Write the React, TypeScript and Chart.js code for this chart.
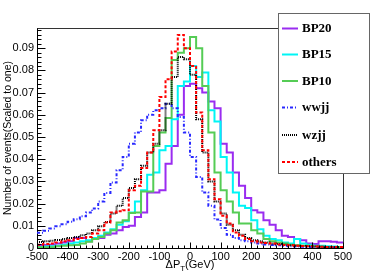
import React, { useEffect, useRef } from "react";
import { Chart, registerables } from "chart.js";

Chart.register(...registerables);

// Bin lower edges (GeV), 20 GeV wide bins from -500 to 500
const binLow = [
  -500, -480, -460, -440, -420, -400, -380, -360, -340, -320,
  -300, -280, -260, -240, -220, -200, -180, -160, -140, -120,
  -100, -80, -60, -40, -20, 0, 20, 40, 60, 80,
  100, 120, 140, 160, 180, 200, 220, 240, 260, 280,
  300, 320, 340, 360, 380, 400, 420, 440, 460, 480,
];
const binHigh = 500;

const bp20 = [
  0.0013, 0.0013, 0.0015, 0.002, 0.0025, 0.003, 0.0045, 0.0045, 0.003, 0.004,
  0.0045, 0.006, 0.0065, 0.008, 0.0095, 0.01, 0.014, 0.016, 0.025, 0.025,
  0.026, 0.038, 0.046, 0.06, 0.073, 0.074, 0.072, 0.07, 0.066, 0.063,
  0.047, 0.043, 0.034, 0.028, 0.0225, 0.017, 0.016, 0.0125, 0.0105, 0.008,
  0.0055, 0.005, 0.004, 0.0035, 0.002, 0.0018, 0.003, 0.003, 0.0028, 0.0025,
];
const bp15 = [
  0.0005, 0.0007, 0.0008, 0.001, 0.0015, 0.002, 0.0025, 0.003, 0.0035, 0.0045,
  0.0055, 0.007, 0.0085, 0.0105, 0.012, 0.016, 0.021, 0.026, 0.033, 0.034,
  0.044, 0.046, 0.058, 0.073, 0.075, 0.082, 0.077, 0.079, 0.062, 0.057,
  0.041, 0.034, 0.025, 0.019, 0.018, 0.0125, 0.0085, 0.0055, 0.004, 0.0035,
  0.0025, 0.002, 0.004, 0.002, 0.0015, 0.001, 0.001, 0.0008, 0.0007, 0.0005,
];
const bp10 = [
  0.0003, 0.0003, 0.0003, 0.0008, 0.001, 0.0012, 0.0014, 0.002, 0.0028, 0.004,
  0.005, 0.0065, 0.008, 0.0115, 0.0125, 0.0158, 0.016, 0.0254, 0.0254, 0.046,
  0.052, 0.0586, 0.0847, 0.088, 0.09, 0.095, 0.09, 0.073, 0.052, 0.034,
  0.026, 0.021, 0.016, 0.011, 0.011, 0.008, 0.0065, 0.004, 0.003, 0.0025,
  0.002, 0.0015, 0.0012, 0.001, 0.001, 0.0008, 0.0006, 0.0005, 0.0005, 0.0004,
];
const wwjj = [
  0.0069, 0.0078, 0.0088, 0.0098, 0.0107, 0.0118, 0.013, 0.0143, 0.016, 0.0178,
  0.021, 0.0248, 0.0295, 0.035, 0.041, 0.047, 0.052, 0.0575, 0.06, 0.062,
  0.063, 0.065, 0.063, 0.059, 0.052, 0.041, 0.032, 0.025, 0.019, 0.0128,
  0.009, 0.006, 0.0045, 0.0035, 0.003, 0.0025, 0.002, 0.0016, 0.0014, 0.0012,
  0.001, 0.0008, 0.0007, 0.0006, 0.0005, 0.0004, 0.0003, 0.0003, 0.0002, 0.0002,
];
const wzjj = [
  0.0027, 0.003, 0.0033, 0.0036, 0.004, 0.0045, 0.005, 0.0057, 0.0065, 0.008,
  0.0098, 0.0117, 0.0155, 0.019, 0.0225, 0.027, 0.031, 0.037, 0.043, 0.047,
  0.053, 0.065, 0.077, 0.086, 0.085, 0.078, 0.058, 0.043, 0.03, 0.021,
  0.0155, 0.0105, 0.008, 0.006, 0.0045, 0.0035, 0.003, 0.0025, 0.002, 0.0018,
  0.0015, 0.0012, 0.001, 0.0009, 0.0008, 0.0007, 0.0006, 0.0005, 0.0005, 0.0004,
];
const others = [
  0.0015, 0.0018, 0.002, 0.0025, 0.003, 0.0035, 0.004, 0.0045, 0.005, 0.0065,
  0.008, 0.0115, 0.016, 0.0165, 0.017, 0.026, 0.028, 0.036, 0.043, 0.053,
  0.068, 0.076, 0.0885, 0.096, 0.09, 0.082, 0.061, 0.044, 0.031, 0.022,
  0.0145, 0.011, 0.007, 0.0055, 0.004, 0.003, 0.0025, 0.0022, 0.002, 0.0016,
  0.0014, 0.0012, 0.001, 0.0009, 0.0008, 0.0007, 0.0006, 0.0005, 0.0005, 0.0004,
];

const seriesLabels = ["BP20", "BP15", "BP10", "wwjj", "wzjj", "others"];
const seriesValues = [bp20, bp15, bp10, wwjj, wzjj, others];
const seriesColors = ["#9a2cf0", "#00f5f5", "#55cc55", "#2828ff", "#000000", "#ff0000"];
const seriesDash: number[][] = [[], [], [], [3, 2, 1, 2], [1, 1], [3, 2]];

const xTickLabels = ["-500", "-400", "-300", "-200", "-100", "0", "100", "200", "300", "400", "500"];
const yTickLabels = ["0", "0.01", "0.02", "0.03", "0.04", "0.05", "0.06", "0.07", "0.08", "0.09"];

const yTitle = "Number of events(Scaled to one)";
const xTitleMain = "\u0394P";
const xTitleSub = "T";
const xTitleEnd = "(GeV)";

const SANS = "'Liberation Sans', Arial, Helvetica, sans-serif";
const SERIF = "'Liberation Serif', 'Times New Roman', serif";

const rootPlugin = {
  id: "rootStyle",
  afterDraw(chart: any) {
    const ctx = chart.ctx as CanvasRenderingContext2D;
    const { left, right, top, bottom } = chart.chartArea;
    const xs = chart.scales.x;
    const ys = chart.scales.y;
    const r = (v: number) => Math.round(v) + 0.5;
    ctx.save();
    // frame top & right
    ctx.strokeStyle = "#333";
    ctx.lineWidth = 1;
    ctx.beginPath();
    ctx.moveTo(r(left), r(top));
    ctx.lineTo(r(right), r(top));
    ctx.lineTo(r(right), r(bottom));
    ctx.stroke();
    // inward ticks
    ctx.strokeStyle = "#000";
    ctx.beginPath();
    for (let v = -500; v <= 500; v += 20) {
      const px = r(xs.getPixelForValue(v));
      const len = v % 100 === 0 ? 6 : 3;
      ctx.moveTo(px, r(bottom));
      ctx.lineTo(px, r(bottom) - len);
    }
    for (let k = 0; k * 0.002 <= ys.max + 1e-9; k++) {
      const v = k * 0.002;
      const py = r(ys.getPixelForValue(v));
      const len = k % 5 === 0 ? 8 : 4;
      ctx.moveTo(r(left), py);
      ctx.lineTo(r(left) + len, py);
    }
    ctx.stroke();

    // x title with subscript
    ctx.fillStyle = "#000";
    ctx.textBaseline = "alphabetic";
    ctx.textAlign = "left";
    const mainFont = `11px ${SANS}`;
    const subFont = `8px ${SANS}`;
    ctx.font = mainFont;
    const w1 = ctx.measureText(xTitleMain).width;
    const w3 = ctx.measureText(xTitleEnd).width;
    ctx.font = subFont;
    const w2 = ctx.measureText(xTitleSub).width;
    const total = w1 + w2 + w3;
    const cx = (left + right) / 2;
    let x0 = cx - total / 2;
    const base = 267.5;
    ctx.font = mainFont;
    ctx.fillText(xTitleMain, x0, base);
    ctx.font = subFont;
    ctx.fillText(xTitleSub, x0 + w1, base + 3);
    ctx.font = mainFont;
    ctx.fillText(xTitleEnd, x0 + w1 + w2, base);

    // legend box
    const lx = 278.5, ly = 13.5, lw = 91, lh = 160;
    ctx.fillStyle = "#fff";
    ctx.fillRect(lx, ly, lw, lh);
    ctx.strokeStyle = "#666";
    ctx.lineWidth = 1;
    ctx.strokeRect(lx, ly, lw, lh);
    const rowY = [28.5, 54.5, 81, 107.5, 135, 162];
    chart.data.datasets.forEach((ds: any, i: number) => {
      const y = rowY[i];
      ctx.strokeStyle = ds.borderColor;
      ctx.lineWidth = 2;
      ctx.setLineDash(ds.borderDash || []);
      ctx.beginPath();
      ctx.moveTo(282, y);
      ctx.lineTo(298, y);
      ctx.stroke();
      ctx.setLineDash([]);
      ctx.fillStyle = "#000";
      ctx.font = `bold 13px ${SERIF}`;
      ctx.textBaseline = "middle";
      ctx.fillText(ds.label, 302, y + 0.5);
    });
    ctx.restore();
  },
};

export default function App() {
  const ref = useRef<HTMLCanvasElement | null>(null);
  useEffect(() => {
    if (!ref.current) return;
    const datasets = seriesLabels.map((label, s) => {
      const vals = seriesValues[s];
      const pts = binLow.map((x, i) => ({ x, y: vals[i] }));
      pts.push({ x: binHigh, y: vals[vals.length - 1] });
      return {
        label,
        data: pts,
        borderColor: seriesColors[s],
        backgroundColor: seriesColors[s],
        borderWidth: 2,
        borderDash: seriesDash[s],
        stepped: "before" as const,
        pointRadius: 0,
        fill: false,
        order: seriesLabels.length - s,
      };
    });
    const chart = new Chart(ref.current, {
      type: "line",
      data: { datasets },
      options: {
        responsive: false,
        animation: false,
        devicePixelRatio: 1,
        layout: { padding: { top: 28, right: 39, left: 0, bottom: 0 } },
        plugins: { legend: { display: false }, tooltip: { enabled: false } },
        scales: {
          x: {
            type: "linear",
            min: -500,
            max: 500,
            grid: { display: false, drawTicks: false },
            border: { display: true, color: "#000", width: 1 },
            ticks: {
              stepSize: 100,
              autoSkip: false,
              maxRotation: 0,
              padding: 2,
              color: "#000",
              font: { family: SANS, size: 11 },
              callback: (v: any) => xTickLabels[Math.round((Number(v) + 500) / 100)] ?? "",
            },
            afterFit: (scale: any) => {
              scale.height = 28;
            },
          },
          y: {
            type: "linear",
            min: 0,
            max: 0.0991,
            grid: { display: false, drawTicks: false },
            border: { display: true, color: "#000", width: 1 },
            ticks: {
              stepSize: 0.01,
              includeBounds: false,
              padding: 3,
              color: "#000",
              font: { family: SANS, size: 11 },
              callback: (v: any) => yTickLabels[Math.round(Number(v) / 0.01)] ?? "",
            },
            title: {
              display: true,
              text: yTitle,
              color: "#000",
              font: { family: SANS, size: 10.5 },
              padding: { top: 2, bottom: 0 },
            },
            afterFit: (scale: any) => {
              scale.width = 37;
            },
          },
        },
      },
      plugins: [rootPlugin],
    });
    return () => chart.destroy();
  }, []);
  return (
    <div style={{ position: "absolute", left: 0, top: 0, width: 382, height: 276, background: "#fff" }}>
      <canvas ref={ref} width={382} height={276} />
    </div>
  );
}
